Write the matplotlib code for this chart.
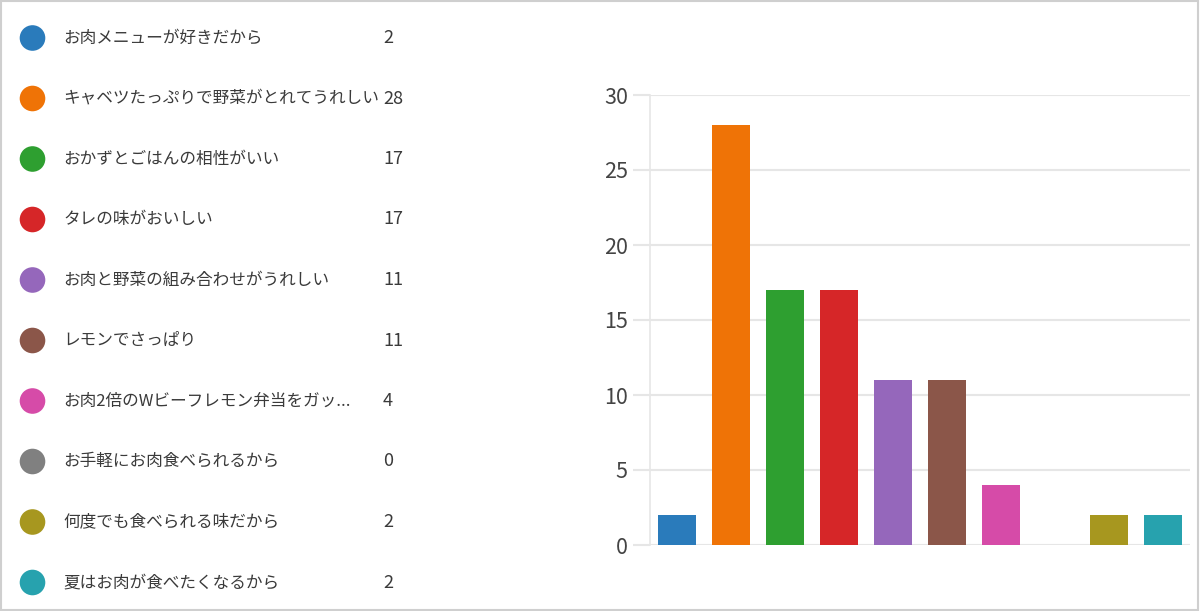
import matplotlib
matplotlib.use("Agg")
import matplotlib.pyplot as plt
from matplotlib.patches import Rectangle

plt.rcParams['font.family'] = ['Noto Sans CJK JP', 'DejaVu Sans']

categories = [
    "お肉メニューが好きだから",
    "キャベツたっぷりで野菜がとれてうれしい",
    "おかずとごはんの相性がいい",
    "タレの味がおいしい",
    "お肉と野菜の組み合わせがうれしい",
    "レモンでさっぱり",
    "お肉2倍のWビーフレモン弁当をガッ...",
    "お手軽にお肉食べられるから",
    "何度でも食べられる味だから",
    "夏はお肉が食べたくなるから",
]
values = [2, 28, 17, 17, 11, 11, 4, 0, 2, 2]
colors = ["#2a7bbb", "#ef7306", "#2e9f30", "#d62628", "#9567bb",
          "#8b5649", "#d64ba8", "#808080", "#a7971f", "#27a2ae"]
yticks = [0, 5, 10, 15, 20, 25, 30]

W, H = 1200, 611
fig = plt.figure(figsize=(W / 100, H / 100), dpi=100)
fig.patch.set_facecolor("white")

# Bar chart
ax = fig.add_axes([650 / W, 1 - 545 / H, 540 / W, 450 / H])
x = list(range(len(values)))
ax.bar(x, values, width=0.72, color=colors, zorder=3)
ax.set_xlim(-0.5, len(values) - 0.5)
ax.set_ylim(0, 30)
ax.set_yticks(yticks)
ax.set_yticklabels([str(t) for t in yticks], fontsize=15.5, color="#444444")
ax.set_xticks([])
for s in ["top", "right", "bottom"]:
    ax.spines[s].set_visible(False)
ax.spines["left"].set_color("#e6e6e6")
ax.spines["left"].set_linewidth(1.2)
ax.yaxis.grid(True, color="#e6e6e6", linewidth=1.5, zorder=0)
ax.tick_params(axis="y", length=12, width=1.5, color="#e6e6e6", pad=4)
ax.set_axisbelow(True)

# Legend overlay in pixel coordinates
lax = fig.add_axes([0, 0, 1, 1], zorder=5)
lax.set_xlim(0, W)
lax.set_ylim(H, 0)
lax.axis("off")
lax.patch.set_alpha(0)
row0, step = 38, 60.5
for i, (cat, val, col) in enumerate(zip(categories, values, colors)):
    yy = row0 + i * step
    lax.scatter([32.5], [yy], s=340, color=col, edgecolors="none")
    lax.text(63, yy, cat, fontsize=12, color="#3a3a3a", va="center", ha="left")
    lax.text(383, yy, str(val), fontsize=13, color="#3a3a3a", va="center", ha="left")

# Frame
fig.add_artist(Rectangle((0.5 / W, 1.5 / H), (W - 3) / W, (H - 2.5) / H,
                         transform=fig.transFigure, fill=False,
                         edgecolor="#cfcfcf", linewidth=1.5))

fig.savefig("out.png", dpi=100, facecolor="white")
